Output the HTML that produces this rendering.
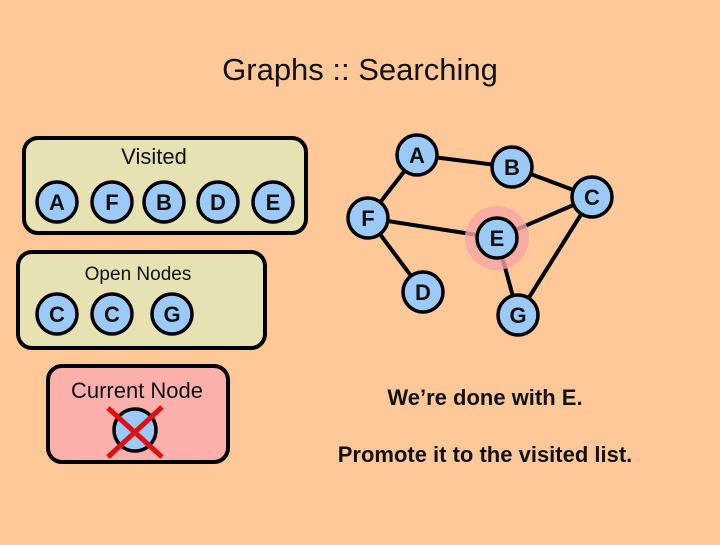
<!DOCTYPE html>
<html><head><style>
body{margin:0;width:720px;height:540px;background:#fec898;overflow:hidden}
svg text{font-family:"Liberation Sans",sans-serif;font-weight:bold;fill:#111}
</style></head><body>
<svg width="720" height="540" viewBox="0 0 720 540">
<text x="360" y="80" text-anchor="middle" font-size="31" style="font-weight:normal">Graphs :: Searching</text>
<!-- boxes -->
<rect x="24" y="138" width="282" height="95" rx="14" fill="#e6e2b4" stroke="#000" stroke-width="4"/>
<text x="154" y="164" text-anchor="middle" font-size="22" style="font-weight:normal">Visited</text>
<rect x="18" y="252" width="247" height="96" rx="14" fill="#e6e2b4" stroke="#000" stroke-width="4"/>
<text x="138" y="280" text-anchor="middle" font-size="19" style="font-weight:normal">Open Nodes</text>
<rect x="48" y="366" width="180" height="96" rx="14" fill="#fbb0ac" stroke="#000" stroke-width="4"/>
<text x="137" y="398" text-anchor="middle" font-size="22" style="font-weight:normal">Current Node</text>
<!-- edges -->
<g stroke="#000" stroke-width="4">
<line x1="417" y1="155" x2="512" y2="167"/><line x1="512" y1="167" x2="592" y2="197"/>
<line x1="417" y1="155" x2="368" y2="218"/><line x1="368" y1="218" x2="497" y2="238"/>
<line x1="592" y1="197" x2="497" y2="238"/><line x1="592" y1="197" x2="518" y2="315"/>
<line x1="368" y1="218" x2="423" y2="292"/><line x1="497" y1="238" x2="518" y2="315"/>
</g>
<circle cx="497" cy="238" r="32" fill="#f6a6a6" opacity="0.8"/>
<g fill="#9ccaf8" stroke="#000" stroke-width="3.5">
<circle cx="417" cy="155" r="20"/><circle cx="512" cy="167" r="20"/><circle cx="592" cy="197" r="20"/>
<circle cx="368" cy="218" r="20"/><circle cx="497" cy="238" r="20"/><circle cx="423" cy="292" r="20"/>
<circle cx="518" cy="315" r="20"/>
<circle cx="57" cy="202" r="20"/><circle cx="112" cy="202" r="20"/><circle cx="164" cy="202" r="20"/>
<circle cx="218" cy="202" r="20"/><circle cx="273" cy="202" r="20"/>
<circle cx="57" cy="314" r="20"/><circle cx="112" cy="314" r="20"/><circle cx="172" cy="314" r="20"/>
<circle cx="135" cy="430" r="21"/>
</g>
<g font-size="22" text-anchor="middle">
<text x="417" y="163">A</text><text x="512" y="175">B</text><text x="592" y="205">C</text>
<text x="368" y="226">F</text><text x="497" y="246">E</text><text x="423" y="300">D</text><text x="518" y="323">G</text>
<text x="57" y="210">A</text><text x="112" y="210">F</text><text x="164" y="210">B</text><text x="218" y="210">D</text><text x="273" y="210">E</text>
<text x="57" y="322">C</text><text x="112" y="322">C</text><text x="172" y="322">G</text>
</g>
<g stroke="#e01010" stroke-width="5">
<line x1="108" y1="408" x2="162" y2="457"/><line x1="162" y1="407" x2="108" y2="457"/>
</g>
<text x="485" y="405" text-anchor="middle" font-size="22">We’re done with E.</text>
<text x="485" y="462" text-anchor="middle" font-size="22">Promote it to the visited list.</text>
</svg>
</body></html>
